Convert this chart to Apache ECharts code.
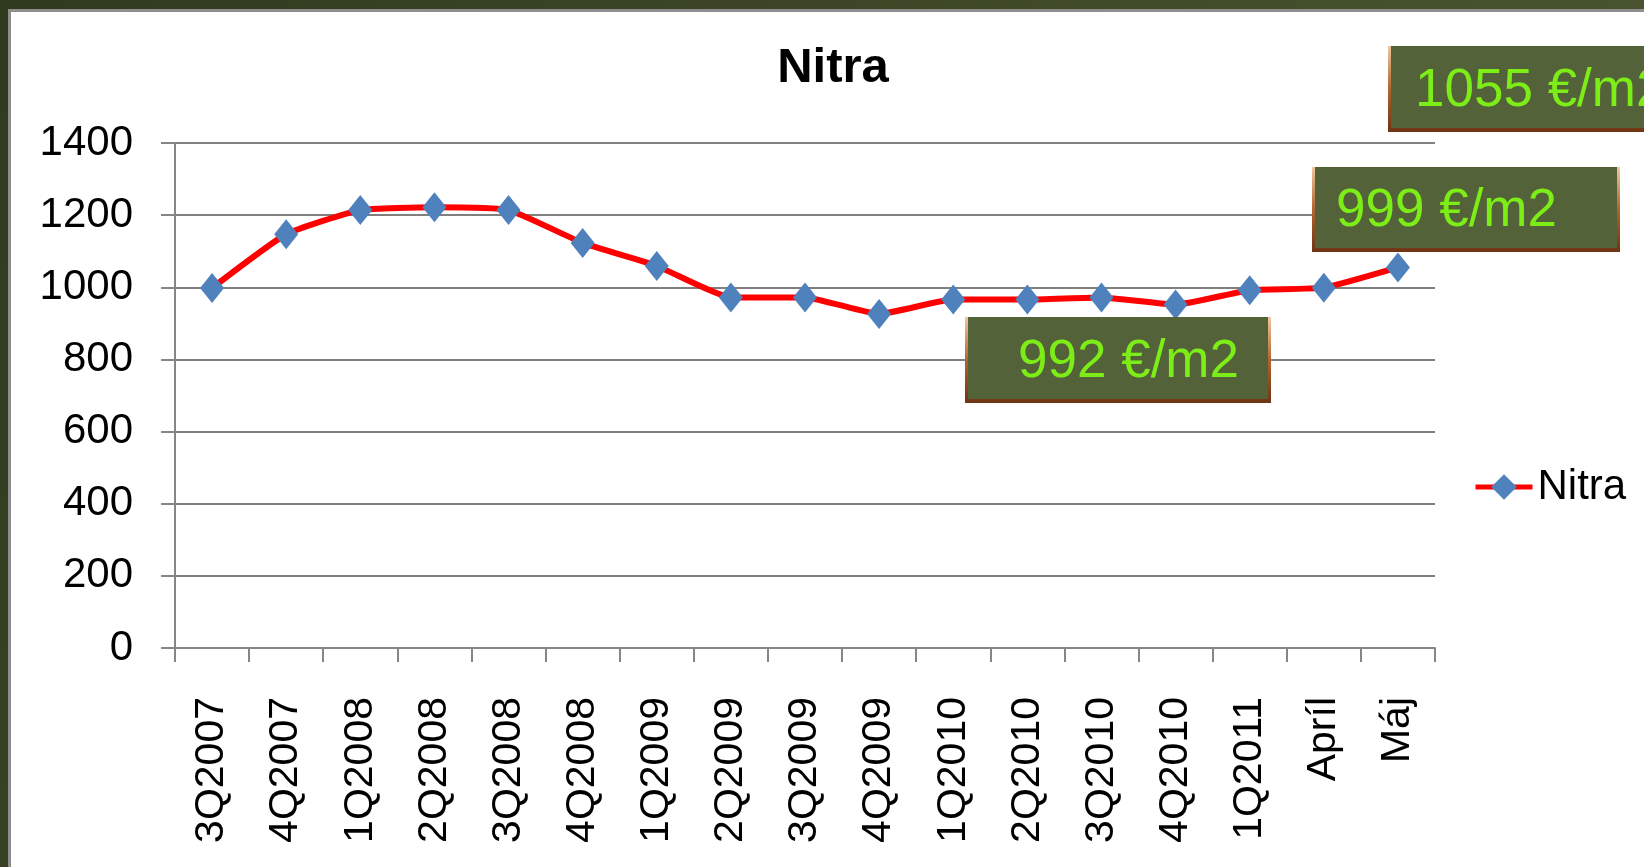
<!DOCTYPE html>
<html>
<head>
<meta charset="utf-8">
<style>
	html, body { margin: 0; padding: 0; }
	body {
		width: 1644px; height: 867px; overflow: hidden; position: relative;
		background: linear-gradient(120deg, #2f3a1f 0%, #3d4727 40%, #4f5b33 100%);
	}
	.frame {
		position: absolute; left: 8px; top: 9px; right: 0; bottom: 0;
		background: #fff; border-left: 3px solid #8e8e8e; border-top: 3px solid #8e8e8e;
	}
	#main { position: absolute; left: 0; top: 0; width: 1644px; height: 867px; }
</style>
</head>
<body>
<div class="frame"></div>
<div id="main"></div>

<script src="https://cdn.jsdelivr.net/npm/echarts@6/dist/echarts.min.js"></script>
<script>
	var categories = ['3Q2007', '4Q2007', '1Q2008', '2Q2008', '3Q2008', '4Q2008', '1Q2009', '2Q2009', '3Q2009',
		'4Q2009', '1Q2010', '2Q2010', '3Q2010', '4Q2010', '1Q2011', 'Apríl', 'Máj'];
	var nitra = [998, 1147, 1214, 1222, 1214, 1123, 1059, 972, 972, 926, 966, 966, 972, 952, 992, 999, 1055];
	var yTicks = [0, 200, 400, 600, 800, 1000, 1200, 1400];
	// price boxes: text, box [x, y, w, h], text x
	var boxTexts = ['1055 €/m2', '999 €/m2', '992 €/m2'];
	var boxRects = [[1388, 46, 290, 86], [1312, 167, 308, 85], [965, 317, 306, 86]];
	var boxTextX = [1415, 1336, 1018];

	var myChart = echarts.init(document.getElementById('main'));

	function priceBox(i) {
		var r = boxRects[i];
		return {
			type: 'group',
			children: [{
				type: 'rect',
				z: 100,
				shape: { x: r[0], y: r[1], width: r[2], height: r[3] },
				style: {
					fill: new echarts.graphic.LinearGradient(0, 0, 0, 1, [
						{ offset: 0, color: '#f0c8a0' },
						{ offset: 0.5, color: '#b0652f' },
						{ offset: 1, color: '#6e3414' }
					])
				}
			}, {
				type: 'rect',
				z: 101,
				shape: { x: r[0] + 3, y: r[1], width: r[2] - 6, height: r[3] - 4 },
				style: { fill: '#546239' }
			}, {
				type: 'text',
				z: 102,
				x: boxTextX[i],
				y: r[1] + r[3] / 2 + 2,
				style: {
					text: boxTexts[i],
					fill: '#7ded17',
					font: '53px "Liberation Sans", Arial, sans-serif',
					verticalAlign: 'middle'
				}
			}]
		};
	}

	var option = {
		animation: false,
		title: {
			text: 'Nitra',
			left: 828,
			top: 39,
			textAlign: 'center',
			textStyle: { fontFamily: '"Liberation Sans", Arial', fontSize: 49, fontWeight: 'bold', color: '#000' }
		},
		legend: {
			data: ['Nitra'],
			orient: 'vertical',
			left: 1468,
			top: 461,
			itemWidth: 57,
			itemHeight: 32,
			lineStyle: { width: 5 },
			textStyle: { fontFamily: '"Liberation Sans", Arial', fontSize: 42, color: '#000' }
		},
		grid: { left: 175, top: 143, width: 1260, height: 505 },
		xAxis: {
			type: 'category',
			data: categories,
			boundaryGap: true,
			axisLine: { lineStyle: { color: '#868686', width: 2 } },
			axisTick: { show: true, length: 14, lineStyle: { color: '#868686', width: 2 } },
			axisLabel: {
				interval: 0, rotate: 90, margin: 49,
				fontFamily: '"Liberation Sans", Arial', fontSize: 41, color: '#000'
			}
		},
		yAxis: {
			type: 'value',
			min: yTicks[0],
			max: yTicks[yTicks.length - 1],
			interval: 200,
			axisLine: { show: true, lineStyle: { color: '#868686', width: 2 } },
			axisTick: { show: true, length: 14, lineStyle: { color: '#868686', width: 2 } },
			splitLine: { lineStyle: { color: '#808080', width: 2 } },
			axisLabel: {
				margin: 42, fontFamily: '"Liberation Sans", Arial', fontSize: 42, color: '#000',
				formatter: function (v) { return String(v); }
			}
		},
		series: [{
			name: 'Nitra',
			type: 'line',
			data: nitra,
			smooth: 0.15,
			symbol: 'diamond',
			symbolSize: [24, 30],
			lineStyle: { color: '#ff0000', width: 6 },
			itemStyle: { color: '#4f81bd' }
		}],
		graphic: boxTexts.map(function (t, i) { return priceBox(i); })
	};
	myChart.setOption(option);
</script>
</body>
</html>
